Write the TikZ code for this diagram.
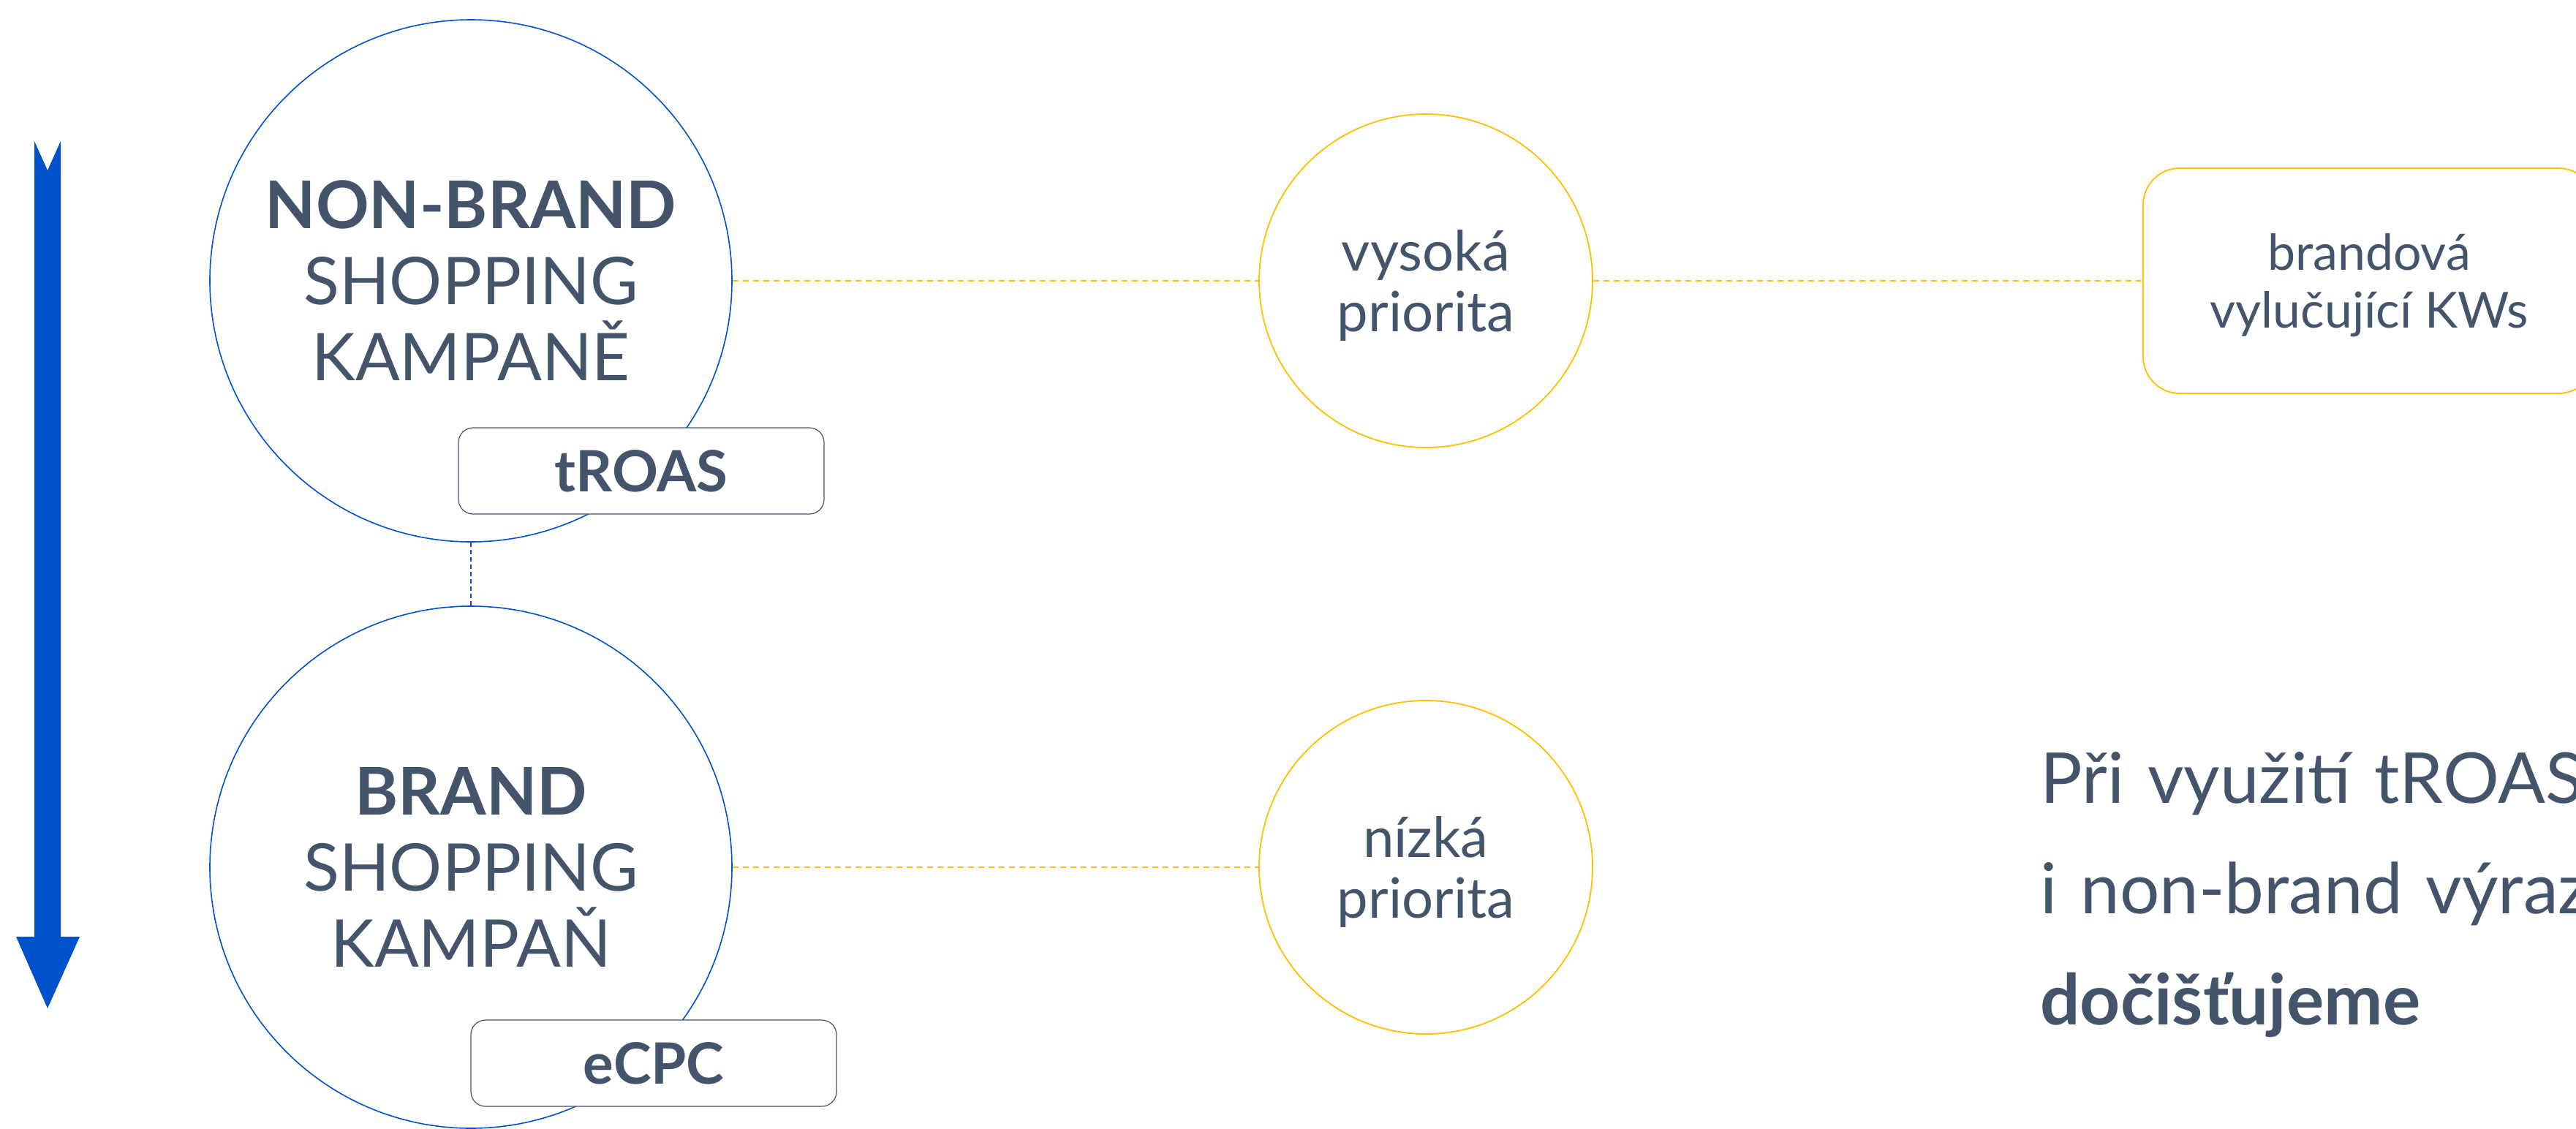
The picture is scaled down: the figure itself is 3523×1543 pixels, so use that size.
\documentclass[tikz,border=0pt]{standalone}
\usepackage{fontspec}
\setmainfont{Lato}
\definecolor{ink}{HTML}{44546A}
\definecolor{royal}{HTML}{0052CC}
\definecolor{gold}{HTML}{FFC000}
\newcommand\widewords{\spaceskip=16pt plus 2pt\relax}
\begin{document}
\begin{tikzpicture}[x=0.5pt,y=-0.5pt,
  campaign/.style={circle, draw=royal, line width=0.8pt, minimum size=357pt, inner sep=0pt,
    align=center, text=ink, font=\fontsize{45}{52}\selectfont},
  prio/.style={circle, draw=gold, line width=0.9pt, minimum size=228pt, inner sep=0pt},
  priotext/.style={align=center, text=ink, inner sep=0pt, yshift=-3.5pt,
    font=\fontsize{38}{41.5}\selectfont},
  bidtag/.style={draw=ink, line width=0.6pt, fill=white, rounded corners=10pt,
    minimum width=250pt, minimum height=59pt, inner sep=0pt, text=ink,
    font=\bfseries\fontsize{39}{44}\selectfont},
  kwbox/.style={draw=gold, line width=0.9pt, fill=white, rounded corners=25pt,
    minimum width=309pt, minimum height=154pt, inner sep=0pt},
  kwtext/.style={align=center, text=ink, inner sep=0pt, yshift=-3pt,
    font=\fontsize{34}{39.5}\selectfont},
  link/.style={gold, line width=0.9pt, dash pattern=on 4pt off 3pt},
  stack/.style={royal, line width=0.8pt, dash pattern=on 3pt off 2pt},
  note/.style={anchor=base west, inner sep=0pt, text=ink,
    font=\fontsize{48}{56}\selectfont}]

\useasboundingbox (0,0) rectangle (3523,1543);
\clip (0,0) rectangle (3523,1543);

% priority arrow on the left
\fill[royal] (47,193) -- (65,233) -- (83,193) -- (83,1281) -- (109,1281)
  -- (65,1379) -- (22,1281) -- (47,1281) -- cycle;

% campaigns
\node[campaign] (nb) at (644,384) {\textbf{NON-BRAND}\\SHOPPING\\KAMPANĚ};
\node[campaign] (br) at (644,1186) {\textbf{BRAND}\\SHOPPING\\KAMPAŇ};
\draw[stack] (nb.south) -- (br.north);

% bidding strategies
\node[bidtag] (troas) at (877,644) {tROAS};
\node[bidtag] (ecpc) at (894,1454) {eCPC};

% priorities
\node[prio, label={[priotext]center:{vysoká\\priorita}}] (hi) at (1950,384) {};
\node[prio, label={[priotext]center:{nízká\\priorita}}] (lo) at (1950,1186) {};

% negative keywords
\node[kwbox, label={[kwtext]center:{brandová\\vylučující KWs}}] (kw) at (3240,384) {};

\draw[link] (nb.east) -- (hi.west);
\draw[link] (hi.east) -- (kw.west);
\draw[link] (br.east) -- (lo.west);

% note
\node[note] (n1) at (2790,1098) {\widewords Při využití tROAS};
\node[note] (n2) at (2790,1249) {\widewords i non-brand výraz};
\node[note] (n3) at (2790,1401) {\bfseries dočišťujeme};
\end{tikzpicture}
\end{document}
